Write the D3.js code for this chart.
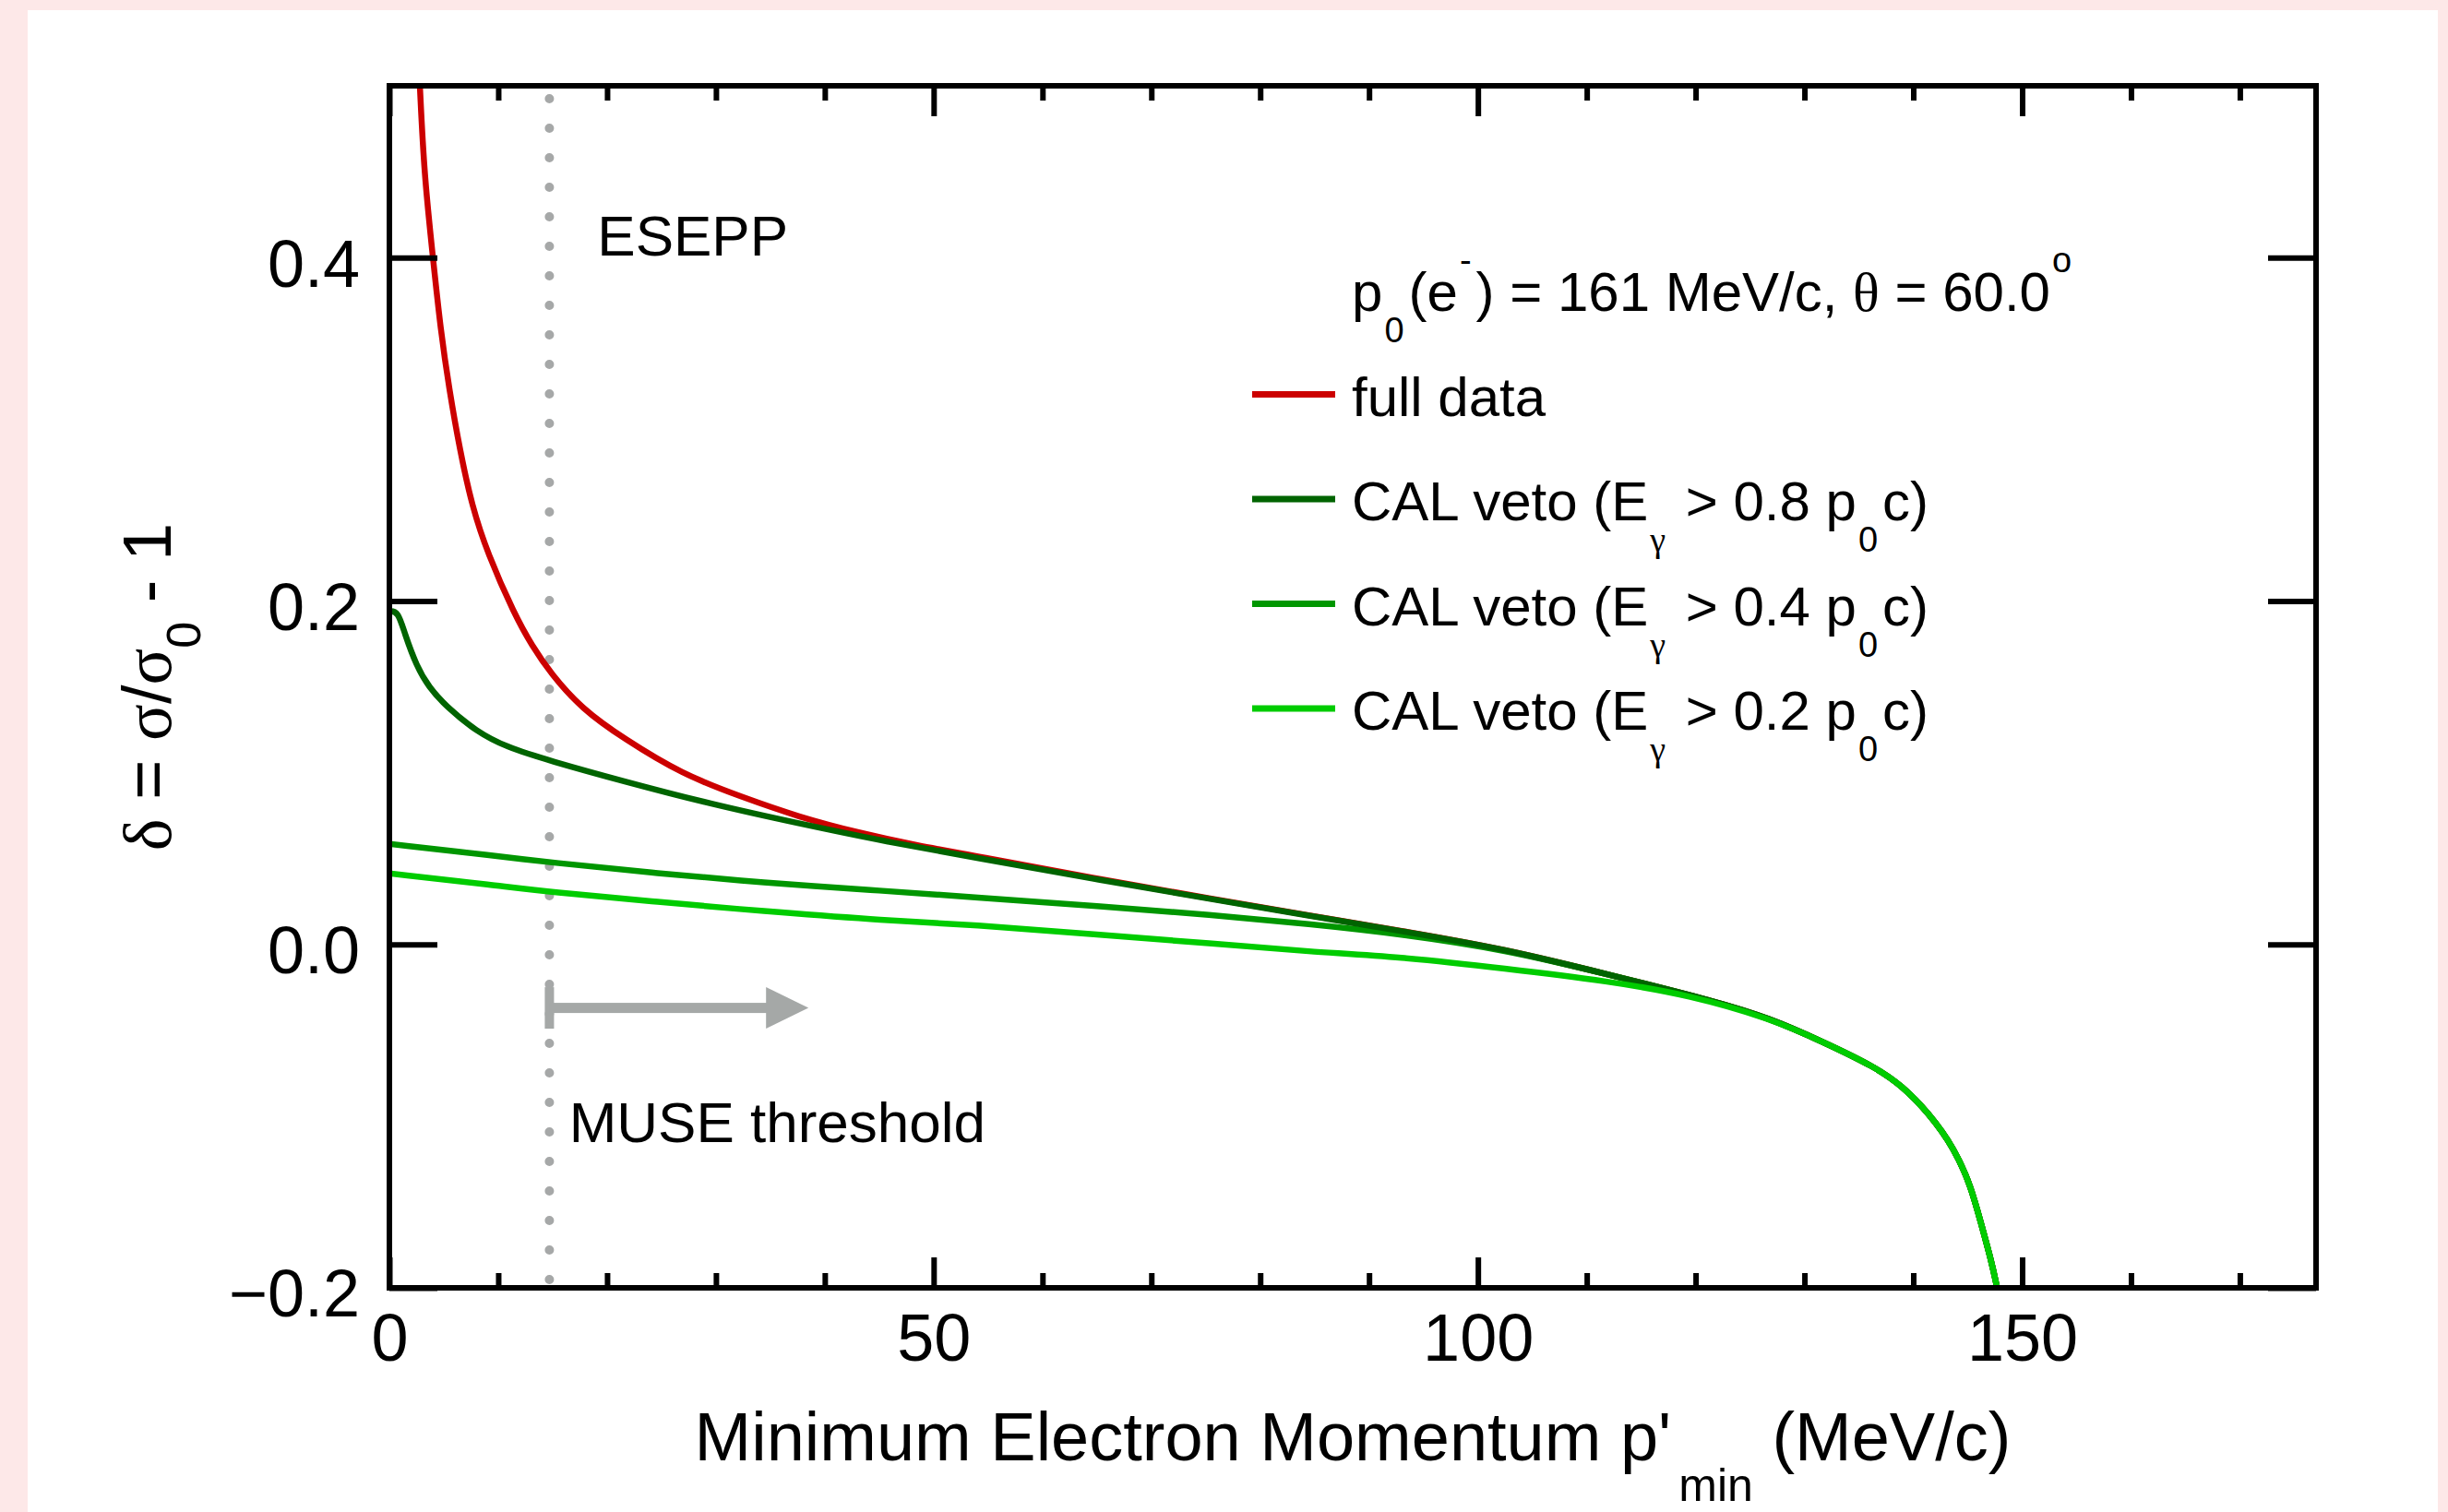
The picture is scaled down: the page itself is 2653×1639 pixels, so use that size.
<!DOCTYPE html>
<html>
<head>
<meta charset="utf-8">
<script src="https://cdn.jsdelivr.net/npm/d3@7"></script>
<style>
  body { margin: 0; background: #fde8e8; }
  text { white-space: pre; }
</style>
</head>
<body>
<script>
// radiative correction delta vs minimum electron momentum

const width  = 2653;
const height = 1639;
const frame  = { left: 422, right: 2510, top: 93, bottom: 1396 };

const sans  = "'Liberation Sans', Arial, Helvetica, sans-serif";
const serif = "'Liberation Serif', 'Times New Roman', serif";

// axes
const xDomain = [0, 177];
const yDomain = [-0.2, 0.5];
const xMajor  = [0, 50, 100, 150];
const xMinor  = [10, 20, 30, 40, 60, 70, 80, 90, 110, 120, 130, 140, 160, 170];
const yMajor  = [-0.2, 0.0, 0.2, 0.4];

// common tail where all curves merge
const pTail = [126.8, 131.6, 136.5, 138.9, 141.4, 143.8, 145.3, 146.2, 147.2, 147.7];
const dTail = [-0.043, -0.0564, -0.0714, -0.082, -0.098, -0.119, -0.141, -0.162, -0.185, -0.2];

// full data (red)
const pFull = [2.8, 3.2, 4.0, 4.7, 5.5, 6.5, 7.6, 9.0, 11.5, 13.1, 14.8, 17.7, 21.5, 26.9, 32.3, 37.7, 43.1, 48.5, 53.9, 64.7, 75.6, 84.6, 92.7, 102.5, 112.1, 121.9];
const dFull = [0.5, 0.448, 0.4, 0.358, 0.323, 0.287, 0.255, 0.228, 0.192, 0.174, 0.158, 0.137, 0.120, 0.099, 0.086, 0.074, 0.065, 0.0575, 0.0515, 0.0385, 0.0265, 0.0168, 0.0082, -0.0027, -0.0177, -0.0333];

// CAL veto E > 0.8 p0c
const pVeto08 = [0, 0.8, 1.4, 2.5, 3.6, 5.3, 8.0, 10.7, 14.7, 21.5, 29.6, 37.7, 45.8, 53.9, 64.7, 75.6, 84.6, 92.7, 102.5, 112.1, 121.9];
const dVeto08 = [0.194, 0.194, 0.181, 0.162, 0.150, 0.138, 0.124, 0.115, 0.107, 0.095, 0.0816, 0.0703, 0.0596, 0.0505, 0.0381, 0.0263, 0.0166, 0.0081, -0.0027, -0.0177, -0.0333];

// CAL veto E > 0.4 p0c
const pVeto04 = [0, 9.8, 14.7, 24.7, 34.4, 44.2, 53.9, 64.7, 75.6, 84.6, 92.7, 102.5, 112.1, 121.9];
const dVeto04 = [0.0585, 0.0515, 0.0478, 0.0413, 0.036, 0.0317, 0.0274, 0.0225, 0.0172, 0.0118, 0.0062, -0.003, -0.0177, -0.0333];

// CAL veto E > 0.2 p0c
const pVeto02 = [0, 9.8, 14.7, 24.7, 34.4, 44.2, 53.9, 64.7, 75.6, 84.6, 92.7, 102.5, 112.1, 119.4];
const dVeto02 = [0.0413, 0.0344, 0.0306, 0.0247, 0.0193, 0.0145, 0.0113, 0.0059, 0.0005, -0.0043, -0.0072, -0.014, -0.0215, -0.0295];

// annotations
const threshold  = 14.7;
const arrowEnd   = 38.5;
const arrowLevel = -0.037;
const noteText   = ["ESEPP", "MUSE threshold"];
const noteP      = [19.1, 16.5];
const noteD      = [0.401, -0.115];

const series = [
  { name: "full",   p: pFull,   d: dFull,   color: "#cc0000" },
  { name: "veto04", p: pVeto04, d: dVeto04, color: "#009600" },
  { name: "veto08", p: pVeto08, d: dVeto08, color: "#006400" },
  { name: "veto02", p: pVeto02, d: dVeto02, color: "#00cc00" }
];

// legend rows, each a list of [text, mode]
const legendRows = [
  { color: null, segs: [["p"], ["0", "sub"], ["(e"], ["-", "sup"], [") = 161 MeV/c, "], ["θ", "greek"], [" = 60.0"], ["o", "sup"]] },
  { color: "#cc0000", segs: [["full data"]] },
  { color: "#006400", segs: [["CAL veto (E"], ["γ", "subg"], [" > 0.8 p"], ["0", "sub"], ["c)"]] },
  { color: "#009600", segs: [["CAL veto (E"], ["γ", "subg"], [" > 0.4 p"], ["0", "sub"], ["c)"]] },
  { color: "#00cc00", segs: [["CAL veto (E"], ["γ", "subg"], [" > 0.2 p"], ["0", "sub"], ["c)"]] }
];

const svg = d3.select("body").append("svg")
  .attr("width", width)
  .attr("height", height)
  .style("display", "block");

svg.append("rect").attr("width", width).attr("height", height).attr("fill", "#fde8e8");
svg.append("rect").attr("x", 30).attr("y", 11).attr("width", 2612).attr("height", height - 11).attr("fill", "#ffffff");

const x = d3.scaleLinear().domain(xDomain).range([frame.left, frame.right]);
const y = d3.scaleLinear().domain(yDomain).range([frame.bottom, frame.top]);

// rich text helper: sub/superscripts with tspans
function richText(sel, segs, o) {
  let shift = 0;
  let after = false;
  segs.forEach(([t, mode]) => {
    const isSub = mode === "sub" || mode === "subg";
    const small = isSub || mode === "sup";
    const target = isSub ? o.sub : (mode === "sup" ? -o.sup : 0);
    const ts = sel.append("tspan").attr("dy", target - shift).text(t);
    if (small) ts.style("font-size", o.small + "px");
    if (mode === "greek" || mode === "subg") ts.style("font-family", serif);
    if (small && o.subDx) ts.attr("dx", o.subDx);
    if (after && o.afterDx) ts.attr("dx", o.afterDx);
    after = small;
    shift = target;
  });
}

// clip
svg.append("clipPath").attr("id", "plotClip")
  .append("rect")
  .attr("x", frame.left).attr("y", frame.top)
  .attr("width", frame.right - frame.left).attr("height", frame.bottom - frame.top);

// threshold dotted line
svg.append("line")
  .attr("x1", x(threshold)).attr("x2", x(threshold))
  .attr("y1", y(yDomain[0])).attr("y2", y(yDomain[1]))
  .attr("stroke", "#a6a8a8")
  .attr("stroke-width", 10)
  .attr("stroke-linecap", "round")
  .attr("stroke-dasharray", "0 32")
  .attr("stroke-dashoffset", -9);

// curves
const line = d3.line()
  .x(d => x(d[0]))
  .y(d => y(d[1]))
  .curve(d3.curveBasis);

const curveG = svg.append("g").attr("clip-path", "url(#plotClip)");
series.forEach(s => {
  const pts = s.p.map((v, i) => [v, s.d[i]]);
  const tail = (s.p[s.p.length - 1] < pTail[0]) ? pTail.map((v, i) => [v, dTail[i]]) : [];
  curveG.append("path")
    .attr("d", line(pts.concat(tail)))
    .attr("fill", "none")
    .attr("stroke", s.color)
    .attr("stroke-width", 6.5)
    .attr("stroke-linejoin", "round");
});

// MUSE threshold arrow
const grey = "#a5a8a7";
const ax0 = x(threshold), ax1 = x(arrowEnd), ay = y(arrowLevel);
svg.append("rect").attr("x", ax0 - 5).attr("y", ay - 22.5).attr("width", 10).attr("height", 45).attr("fill", grey);
svg.append("rect").attr("x", ax0).attr("y", ay - 5.5).attr("width", ax1 - 45 - ax0).attr("height", 11).attr("fill", grey);
svg.append("path")
  .attr("d", `M${ax1 - 46},${ay - 22.5}L${ax1},${ay}L${ax1 - 46},${ay + 22.5}Z`)
  .attr("fill", grey);

// annotations
noteText.forEach((t, i) => {
  svg.append("text")
    .attr("x", x(noteP[i])).attr("y", y(noteD[i]))
    .style("font-family", sans).style("font-size", "62px")
    .text(t);
});

// axes (ticks inward)
function styleAxis(g) {
  g.select(".domain").remove();
  g.selectAll(".tick line").attr("stroke", "#000").attr("stroke-width", 6);
  g.selectAll(".tick text").style("font-family", sans).style("font-size", "72px").attr("fill", "#000");
}

svg.append("g").attr("transform", `translate(0,${frame.bottom})`)
  .call(d3.axisBottom(x).tickValues(xMajor).tickSize(-33).tickPadding(28).tickFormat(d3.format("d")))
  .call(styleAxis);
svg.append("g").attr("transform", `translate(0,${frame.bottom})`)
  .call(d3.axisBottom(x).tickValues(xMinor).tickSize(-16).tickFormat(""))
  .call(styleAxis);
svg.append("g").attr("transform", `translate(0,${frame.top})`)
  .call(d3.axisTop(x).tickValues(xMajor).tickSize(-33).tickFormat(""))
  .call(styleAxis);
svg.append("g").attr("transform", `translate(0,${frame.top})`)
  .call(d3.axisTop(x).tickValues(xMinor).tickSize(-16).tickFormat(""))
  .call(styleAxis);

const yAxisG = svg.append("g").attr("transform", `translate(${frame.left},0)`)
  .call(d3.axisLeft(y).tickValues(yMajor).tickSize(-52).tickPadding(32).tickFormat(d3.format(".1f")))
  .call(styleAxis);
yAxisG.selectAll(".tick text").attr("dy", "0.43em");
svg.append("g").attr("transform", `translate(${frame.right},0)`)
  .call(d3.axisRight(y).tickValues(yMajor).tickSize(-52).tickFormat(""))
  .call(styleAxis);

// frame
svg.append("rect")
  .attr("x", frame.left).attr("y", frame.top)
  .attr("width", frame.right - frame.left).attr("height", frame.bottom - frame.top)
  .attr("fill", "none").attr("stroke", "#000").attr("stroke-width", 6);

// axis titles
const xTitle = svg.append("text")
  .attr("x", (frame.left + frame.right) / 2).attr("y", 1583)
  .attr("text-anchor", "middle")
  .style("font-family", sans).style("font-size", "74px");
richText(xTitle, [["Minimum Electron Momentum p'"], ["min", "sub"], [" (MeV/c)"]], { sub: 44, sup: 0, small: 50, subDx: 8 });

const yTitle = svg.append("text")
  .attr("transform", `translate(185,${(frame.top + frame.bottom) / 2}) rotate(-90)`)
  .attr("text-anchor", "middle")
  .style("font-family", sans).style("font-size", "74px");
richText(yTitle, [["δ", "greek"], [" = "], ["σ", "greek"], ["/"], ["σ", "greek"], ["0", "sub"], [" - 1"]], { sub: 32, sup: 0, small: 52 });

// legend
const legX = 1465, legLine = [1357, 1447], legTop = 337, legStep = 113.5;
legendRows.forEach((row, i) => {
  const by = legTop + i * legStep;
  if (row.color) {
    svg.append("line")
      .attr("x1", legLine[0]).attr("x2", legLine[1])
      .attr("y1", by - 23).attr("y2", by - 23)
      .attr("stroke", row.color).attr("stroke-width", 7);
  }
  const t = svg.append("text")
    .attr("x", legX).attr("y", by)
    .style("font-family", sans).style("font-size", "60px");
  richText(t, row.segs, { sub: 34, sup: 42, small: 38, subDx: 2, afterDx: 5 });
});
</script>
</body>
</html>
